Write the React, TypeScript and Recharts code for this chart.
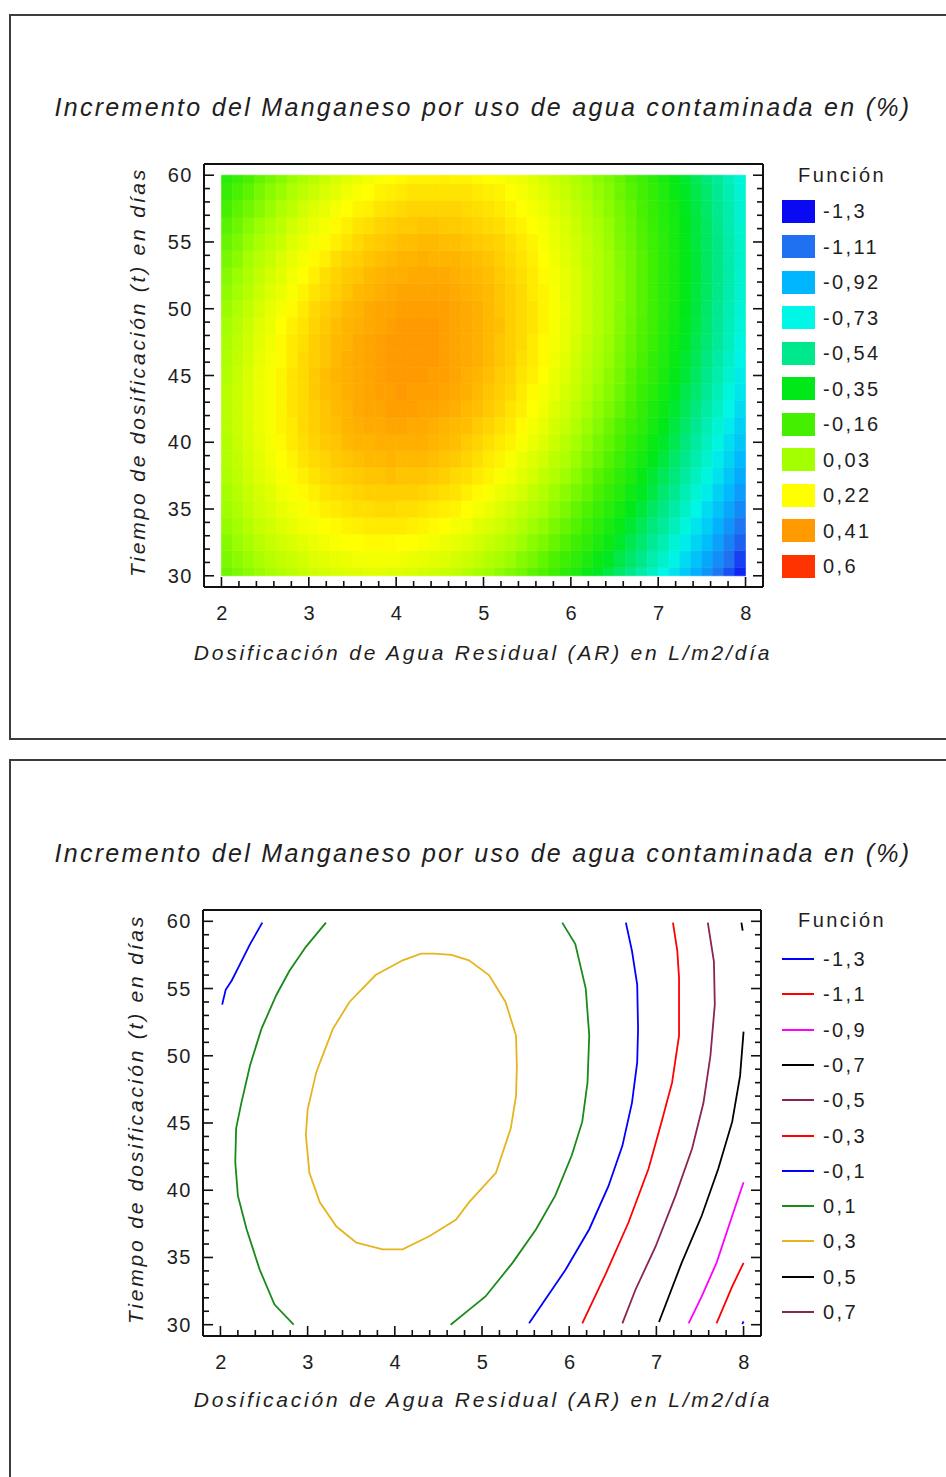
import React from 'react';
import { ComposedChart, Scatter, XAxis, YAxis, ReferenceArea } from 'recharts';

// ---------- axes ----------
const xTicks = [2, 2.2, 2.4, 2.6, 2.8, 3, 3.2, 3.4, 3.6, 3.8, 4, 4.2, 4.4, 4.6, 4.8, 5, 5.2, 5.4, 5.6, 5.8, 6, 6.2, 6.4, 6.6, 6.8, 7, 7.2, 7.4, 7.6, 7.8, 8];
const xTickLabels = [2, 3, 4, 5, 6, 7, 8];
const tTicks = [30, 31, 32, 33, 34, 35, 36, 37, 38, 39, 40, 41, 42, 43, 44, 45, 46, 47, 48, 49, 50, 51, 52, 53, 54, 55, 56, 57, 58, 59, 60];
const tTickLabels = [30, 35, 40, 45, 50, 55, 60];
const xDomain = [1.8, 8.2];
const tDomain = [29.16, 60.84];
const xRange = [2, 8];
const tRange = [30, 60];

const chartTitle = 'Incremento del Manganeso por uso de agua contaminada en (%)';
const xTitle = 'Dosificación de Agua Residual (AR) en L/m2/día';
const yTitle = 'Tiempo de dosificación (t) en días';
const legendTitle = 'Función';

// ---------- surface (heat map) values at cell centres ----------
const xCells = [2.0625, 2.1875, 2.3125, 2.4375, 2.5625, 2.6875, 2.8125, 2.9375, 3.0625, 3.1875, 3.3125, 3.4375, 3.5625, 3.6875, 3.8125, 3.9375,
  4.0625, 4.1875, 4.3125, 4.4375, 4.5625, 4.6875, 4.8125, 4.9375, 5.0625, 5.1875, 5.3125, 5.4375, 5.5625, 5.6875, 5.8125, 5.9375,
  6.0625, 6.1875, 6.3125, 6.4375, 6.5625, 6.6875, 6.8125, 6.9375, 7.0625, 7.1875, 7.3125, 7.4375, 7.5625, 7.6875, 7.8125, 7.9375];
const tCells = [30, 31.25, 32.5, 33.75, 35, 36.25, 37.5, 38.75, 40, 41.25, 42.5, 43.75, 45, 46.25, 47.5, 48.75, 50, 51.25, 52.5, 53.75, 55, 56.25, 57.5, 58.75, 60];
const z300 = [-0.08, -0.05, -0.02, 0.01, 0.04, 0.06, 0.08, 0.10, 0.12, 0.13, 0.14, 0.15, 0.15, 0.16, 0.16, 0.15, 0.15, 0.14, 0.13, 0.12, 0.10, 0.09, 0.07, 0.04, 0.02, -0.01, -0.04, -0.07, -0.11, -0.14, -0.18, -0.23, -0.27, -0.32, -0.37, -0.42, -0.48, -0.54, -0.60, -0.66, -0.73, -0.79, -0.86, -0.94, -1.01, -1.09, -1.17, -1.25];
const z312 = [-0.05, -0.02, 0.01, 0.04, 0.07, 0.09, 0.11, 0.13, 0.15, 0.16, 0.17, 0.18, 0.19, 0.19, 0.19, 0.19, 0.19, 0.18, 0.17, 0.16, 0.15, 0.13, 0.11, 0.09, 0.06, 0.04, 0.01, -0.03, -0.06, -0.10, -0.14, -0.18, -0.22, -0.27, -0.32, -0.37, -0.43, -0.48, -0.54, -0.61, -0.67, -0.74, -0.81, -0.88, -0.96, -1.03, -1.11, -1.20];
const z325 = [-0.03, 0.01, 0.04, 0.07, 0.10, 0.12, 0.14, 0.16, 0.18, 0.19, 0.21, 0.22, 0.22, 0.23, 0.23, 0.23, 0.22, 0.22, 0.21, 0.20, 0.18, 0.17, 0.15, 0.13, 0.10, 0.08, 0.05, 0.02, -0.02, -0.05, -0.09, -0.13, -0.18, -0.22, -0.27, -0.32, -0.38, -0.44, -0.49, -0.56, -0.62, -0.69, -0.76, -0.83, -0.90, -0.98, -1.06, -1.14];
const z338 = [0.00, 0.03, 0.07, 0.10, 0.12, 0.15, 0.17, 0.19, 0.21, 0.22, 0.23, 0.24, 0.25, 0.26, 0.26, 0.26, 0.26, 0.25, 0.24, 0.23, 0.22, 0.20, 0.19, 0.16, 0.14, 0.12, 0.09, 0.06, 0.02, -0.01, -0.05, -0.09, -0.13, -0.18, -0.23, -0.28, -0.33, -0.39, -0.45, -0.51, -0.57, -0.64, -0.71, -0.78, -0.85, -0.93, -1.01, -1.09];
const z350 = [0.02, 0.05, 0.09, 0.12, 0.14, 0.17, 0.19, 0.21, 0.23, 0.25, 0.26, 0.27, 0.28, 0.28, 0.29, 0.29, 0.28, 0.28, 0.27, 0.26, 0.25, 0.24, 0.22, 0.20, 0.18, 0.15, 0.12, 0.09, 0.06, 0.03, -0.01, -0.05, -0.10, -0.14, -0.19, -0.24, -0.29, -0.35, -0.40, -0.47, -0.53, -0.59, -0.66, -0.73, -0.81, -0.88, -0.96, -1.04];
const z362 = [0.03, 0.07, 0.10, 0.13, 0.16, 0.19, 0.21, 0.23, 0.25, 0.27, 0.28, 0.29, 0.30, 0.31, 0.31, 0.31, 0.31, 0.31, 0.30, 0.29, 0.28, 0.27, 0.25, 0.23, 0.21, 0.18, 0.16, 0.13, 0.09, 0.06, 0.02, -0.02, -0.06, -0.10, -0.15, -0.20, -0.25, -0.31, -0.36, -0.42, -0.49, -0.55, -0.62, -0.69, -0.76, -0.84, -0.91, -0.99];
const z375 = [0.05, 0.08, 0.12, 0.15, 0.18, 0.21, 0.23, 0.25, 0.27, 0.29, 0.30, 0.31, 0.32, 0.33, 0.33, 0.34, 0.33, 0.33, 0.33, 0.32, 0.31, 0.29, 0.28, 0.26, 0.24, 0.21, 0.19, 0.16, 0.13, 0.09, 0.06, 0.02, -0.02, -0.07, -0.12, -0.16, -0.22, -0.27, -0.33, -0.39, -0.45, -0.51, -0.58, -0.65, -0.72, -0.79, -0.87, -0.95];
const z388 = [0.06, 0.09, 0.13, 0.16, 0.19, 0.22, 0.24, 0.27, 0.29, 0.30, 0.32, 0.33, 0.34, 0.35, 0.35, 0.36, 0.35, 0.35, 0.35, 0.34, 0.33, 0.32, 0.30, 0.28, 0.26, 0.24, 0.21, 0.18, 0.15, 0.12, 0.08, 0.05, 0.01, -0.04, -0.08, -0.13, -0.18, -0.24, -0.29, -0.35, -0.41, -0.48, -0.54, -0.61, -0.68, -0.76, -0.83, -0.91];
const z400 = [0.06, 0.10, 0.14, 0.17, 0.20, 0.23, 0.26, 0.28, 0.30, 0.32, 0.33, 0.35, 0.36, 0.36, 0.37, 0.37, 0.37, 0.37, 0.37, 0.36, 0.35, 0.34, 0.32, 0.30, 0.28, 0.26, 0.24, 0.21, 0.18, 0.15, 0.11, 0.07, 0.03, -0.01, -0.06, -0.10, -0.15, -0.21, -0.26, -0.32, -0.38, -0.44, -0.51, -0.58, -0.65, -0.72, -0.80, -0.87];
const z412 = [0.07, 0.11, 0.14, 0.18, 0.21, 0.24, 0.26, 0.29, 0.31, 0.33, 0.34, 0.36, 0.37, 0.38, 0.38, 0.39, 0.39, 0.38, 0.38, 0.37, 0.36, 0.35, 0.34, 0.32, 0.30, 0.28, 0.26, 0.23, 0.20, 0.17, 0.13, 0.10, 0.06, 0.01, -0.03, -0.08, -0.13, -0.18, -0.23, -0.29, -0.35, -0.41, -0.48, -0.55, -0.62, -0.69, -0.76, -0.84];
const z425 = [0.07, 0.11, 0.15, 0.18, 0.21, 0.24, 0.27, 0.29, 0.31, 0.33, 0.35, 0.36, 0.38, 0.39, 0.39, 0.40, 0.40, 0.40, 0.39, 0.39, 0.38, 0.37, 0.35, 0.34, 0.32, 0.30, 0.27, 0.25, 0.22, 0.19, 0.15, 0.12, 0.08, 0.04, -0.01, -0.05, -0.10, -0.15, -0.21, -0.27, -0.32, -0.39, -0.45, -0.52, -0.59, -0.66, -0.73, -0.81];
const z438 = [0.07, 0.11, 0.14, 0.18, 0.21, 0.24, 0.27, 0.29, 0.32, 0.34, 0.35, 0.37, 0.38, 0.39, 0.40, 0.40, 0.41, 0.40, 0.40, 0.40, 0.39, 0.38, 0.37, 0.35, 0.33, 0.31, 0.29, 0.26, 0.23, 0.20, 0.17, 0.13, 0.10, 0.06, 0.01, -0.03, -0.08, -0.13, -0.19, -0.24, -0.30, -0.36, -0.43, -0.49, -0.56, -0.63, -0.71, -0.78];
const z450 = [0.06, 0.10, 0.14, 0.18, 0.21, 0.24, 0.27, 0.29, 0.32, 0.34, 0.36, 0.37, 0.38, 0.39, 0.40, 0.41, 0.41, 0.41, 0.41, 0.40, 0.40, 0.39, 0.37, 0.36, 0.34, 0.32, 0.30, 0.27, 0.25, 0.22, 0.18, 0.15, 0.11, 0.07, 0.03, -0.02, -0.06, -0.12, -0.17, -0.22, -0.28, -0.34, -0.40, -0.47, -0.54, -0.61, -0.68, -0.76];
const z462 = [0.05, 0.09, 0.13, 0.17, 0.20, 0.23, 0.26, 0.29, 0.31, 0.33, 0.35, 0.37, 0.38, 0.39, 0.40, 0.41, 0.41, 0.41, 0.41, 0.41, 0.40, 0.39, 0.38, 0.37, 0.35, 0.33, 0.31, 0.28, 0.26, 0.23, 0.19, 0.16, 0.12, 0.08, 0.04, 0.00, -0.05, -0.10, -0.15, -0.21, -0.26, -0.32, -0.39, -0.45, -0.52, -0.59, -0.66, -0.74];
const z475 = [0.04, 0.08, 0.12, 0.16, 0.19, 0.23, 0.26, 0.28, 0.31, 0.33, 0.35, 0.36, 0.38, 0.39, 0.40, 0.41, 0.41, 0.41, 0.41, 0.41, 0.40, 0.39, 0.38, 0.37, 0.35, 0.33, 0.31, 0.29, 0.26, 0.23, 0.20, 0.17, 0.13, 0.09, 0.05, 0.01, -0.04, -0.09, -0.14, -0.19, -0.25, -0.31, -0.37, -0.44, -0.50, -0.57, -0.64, -0.72];
const z488 = [0.03, 0.07, 0.11, 0.15, 0.18, 0.22, 0.25, 0.27, 0.30, 0.32, 0.34, 0.36, 0.37, 0.38, 0.39, 0.40, 0.41, 0.41, 0.41, 0.41, 0.40, 0.39, 0.38, 0.37, 0.35, 0.34, 0.31, 0.29, 0.27, 0.24, 0.21, 0.17, 0.14, 0.10, 0.06, 0.02, -0.03, -0.08, -0.13, -0.18, -0.24, -0.30, -0.36, -0.42, -0.49, -0.56, -0.63, -0.70];
const z500 = [0.01, 0.05, 0.09, 0.13, 0.17, 0.20, 0.23, 0.26, 0.29, 0.31, 0.33, 0.35, 0.36, 0.38, 0.39, 0.39, 0.40, 0.40, 0.40, 0.40, 0.40, 0.39, 0.38, 0.37, 0.35, 0.33, 0.31, 0.29, 0.27, 0.24, 0.21, 0.18, 0.14, 0.10, 0.06, 0.02, -0.03, -0.07, -0.12, -0.18, -0.23, -0.29, -0.35, -0.41, -0.48, -0.55, -0.62, -0.69];
const z512 = [-0.01, 0.03, 0.07, 0.11, 0.15, 0.18, 0.21, 0.24, 0.27, 0.29, 0.31, 0.33, 0.35, 0.36, 0.37, 0.38, 0.39, 0.39, 0.39, 0.39, 0.39, 0.38, 0.37, 0.36, 0.35, 0.33, 0.31, 0.29, 0.26, 0.24, 0.21, 0.17, 0.14, 0.10, 0.06, 0.02, -0.02, -0.07, -0.12, -0.17, -0.23, -0.28, -0.34, -0.41, -0.47, -0.54, -0.61, -0.68];
const z525 = [-0.03, 0.01, 0.05, 0.09, 0.13, 0.16, 0.19, 0.22, 0.25, 0.28, 0.30, 0.32, 0.33, 0.35, 0.36, 0.37, 0.37, 0.38, 0.38, 0.38, 0.38, 0.37, 0.36, 0.35, 0.34, 0.32, 0.30, 0.28, 0.26, 0.23, 0.20, 0.17, 0.14, 0.10, 0.06, 0.02, -0.02, -0.07, -0.12, -0.17, -0.23, -0.28, -0.34, -0.40, -0.47, -0.53, -0.60, -0.68];
const z538 = [-0.06, -0.02, 0.03, 0.07, 0.10, 0.14, 0.17, 0.20, 0.23, 0.25, 0.28, 0.30, 0.31, 0.33, 0.34, 0.35, 0.36, 0.36, 0.37, 0.36, 0.36, 0.36, 0.35, 0.34, 0.33, 0.31, 0.29, 0.27, 0.25, 0.22, 0.19, 0.16, 0.13, 0.09, 0.06, 0.02, -0.03, -0.07, -0.12, -0.17, -0.23, -0.28, -0.34, -0.40, -0.47, -0.53, -0.60, -0.67];
const z550 = [-0.09, -0.05, 0.00, 0.04, 0.08, 0.11, 0.15, 0.18, 0.20, 0.23, 0.25, 0.27, 0.29, 0.31, 0.32, 0.33, 0.34, 0.34, 0.35, 0.35, 0.34, 0.34, 0.33, 0.32, 0.31, 0.30, 0.28, 0.26, 0.24, 0.21, 0.18, 0.15, 0.12, 0.09, 0.05, 0.01, -0.04, -0.08, -0.13, -0.18, -0.23, -0.29, -0.34, -0.41, -0.47, -0.53, -0.60, -0.67];
const z562 = [-0.12, -0.08, -0.03, 0.01, 0.05, 0.08, 0.12, 0.15, 0.18, 0.20, 0.23, 0.25, 0.27, 0.28, 0.30, 0.31, 0.32, 0.32, 0.33, 0.33, 0.32, 0.32, 0.31, 0.30, 0.29, 0.28, 0.26, 0.24, 0.22, 0.20, 0.17, 0.14, 0.11, 0.07, 0.04, 0.00, -0.05, -0.09, -0.14, -0.19, -0.24, -0.29, -0.35, -0.41, -0.47, -0.54, -0.61, -0.68];
const z575 = [-0.16, -0.11, -0.07, -0.03, 0.01, 0.05, 0.08, 0.12, 0.15, 0.17, 0.20, 0.22, 0.24, 0.25, 0.27, 0.28, 0.29, 0.30, 0.30, 0.30, 0.30, 0.30, 0.29, 0.28, 0.27, 0.26, 0.24, 0.22, 0.20, 0.18, 0.15, 0.12, 0.09, 0.06, 0.02, -0.02, -0.06, -0.10, -0.15, -0.20, -0.25, -0.30, -0.36, -0.42, -0.48, -0.55, -0.61, -0.68];
const z588 = [-0.20, -0.15, -0.11, -0.06, -0.02, 0.01, 0.05, 0.08, 0.11, 0.14, 0.16, 0.19, 0.21, 0.22, 0.24, 0.25, 0.26, 0.27, 0.27, 0.27, 0.27, 0.27, 0.27, 0.26, 0.25, 0.24, 0.22, 0.20, 0.18, 0.16, 0.13, 0.10, 0.07, 0.04, 0.00, -0.03, -0.08, -0.12, -0.16, -0.21, -0.26, -0.32, -0.37, -0.43, -0.49, -0.56, -0.62, -0.69];
const z600 = [-0.24, -0.19, -0.15, -0.10, -0.06, -0.03, 0.01, 0.04, 0.07, 0.10, 0.13, 0.15, 0.17, 0.19, 0.21, 0.22, 0.23, 0.24, 0.24, 0.24, 0.25, 0.24, 0.24, 0.23, 0.22, 0.21, 0.19, 0.18, 0.16, 0.13, 0.11, 0.08, 0.05, 0.02, -0.02, -0.05, -0.09, -0.14, -0.18, -0.23, -0.28, -0.33, -0.39, -0.45, -0.51, -0.57, -0.64, -0.70];
const heatRows = [z300, z312, z325, z338, z350, z362, z375, z388, z400, z412, z425, z438, z450, z462, z475, z488, z500, z512, z525, z538, z550, z562, z575, z588, z600];

// ---------- colour scale legend ----------
const fillLevels = [-1.3, -1.11, -0.92, -0.73, -0.54, -0.35, -0.16, 0.03, 0.22, 0.41, 0.6];
const fillLabels = ['-1,3', '-1,11', '-0,92', '-0,73', '-0,54', '-0,35', '-0,16', '0,03', '0,22', '0,41', '0,6'];
const fillColors = ['#0a0af2', '#2070f2', '#00b6ff', '#00f6e6', '#00e88c', '#00e818', '#44f000', '#a4ff00', '#ffff00', '#ff9a00', '#ff3300'];

// ---------- contour legend ----------
const contourLabels = ['-1,3', '-1,1', '-0,9', '-0,7', '-0,5', '-0,3', '-0,1', '0,1', '0,3', '0,5', '0,7'];
const contourColors = ['#0000ff', '#ff0000', '#ff00ff', '#000000', '#8a2454', '#ff0000', '#0000ff', '#1a8a1a', '#e6b41e', '#000000', '#8a2454'];

// ---------- contour lines (x = AR dose, t = days) ----------
const cNeg13 = [{ x: 7.985, t: 30.05 }, { x: 8.0, t: 30.25 }];
const cNeg11 = [{ x: 8.0, t: 34.6 }, { x: 7.87, t: 32.85 }, { x: 7.69, t: 30.1 }];
const cNeg09 = [{ x: 8.0, t: 40.6 }, { x: 7.87, t: 38.1 }, { x: 7.69, t: 34.6 }, { x: 7.52, t: 32.1 }, { x: 7.37, t: 30.1 }];
const cNeg07 = [{ x: 8.0, t: 51.8 }, { x: 7.96, t: 48.5 }, { x: 7.87, t: 45.1 }, { x: 7.71, t: 41.6 }, { x: 7.52, t: 38.1 }, { x: 7.29, t: 34.6 }, { x: 7.03, t: 30.2 }];
const cNeg07Top = [{ x: 7.975, t: 59.9 }, { x: 7.99, t: 59.3 }];
const cNeg05 = [{ x: 7.59, t: 59.9 }, { x: 7.66, t: 57.0 }, { x: 7.67, t: 53.8 }, { x: 7.62, t: 50.0 }, { x: 7.54, t: 46.5 }, { x: 7.41, t: 43.1 }, { x: 7.22, t: 39.6 }, { x: 6.99, t: 35.8 }, { x: 6.76, t: 32.6 }, { x: 6.61, t: 30.1 }];
const cNeg03 = [{ x: 7.19, t: 59.9 }, { x: 7.24, t: 57.8 }, { x: 7.26, t: 55.8 }, { x: 7.26, t: 51.5 }, { x: 7.18, t: 48.0 }, { x: 7.06, t: 45.1 }, { x: 6.91, t: 41.6 }, { x: 6.68, t: 37.6 }, { x: 6.42, t: 33.8 }, { x: 6.15, t: 30.1 }];
const cNeg01R = [{ x: 6.65, t: 59.9 }, { x: 6.72, t: 57.8 }, { x: 6.78, t: 55.3 }, { x: 6.79, t: 52.0 }, { x: 6.78, t: 49.5 }, { x: 6.72, t: 46.5 }, { x: 6.61, t: 43.3 }, { x: 6.45, t: 40.3 }, { x: 6.23, t: 37.1 }, { x: 5.96, t: 34.1 }, { x: 5.54, t: 30.1 }];
const cNeg01L = [{ x: 2.48, t: 59.9 }, { x: 2.34, t: 58.3 }, { x: 2.2, t: 56.5 }, { x: 2.13, t: 55.6 }, { x: 2.06, t: 54.9 }, { x: 2.02, t: 53.8 }];
const cPos01L = [{ x: 3.21, t: 59.9 }, { x: 2.98, t: 58.1 }, { x: 2.79, t: 56.3 }, { x: 2.64, t: 54.5 }, { x: 2.47, t: 52.0 }, { x: 2.34, t: 49.3 }, { x: 2.24, t: 46.5 }, { x: 2.18, t: 44.6 }, { x: 2.17, t: 42.1 }, { x: 2.2, t: 39.6 }, { x: 2.3, t: 37.1 }, { x: 2.45, t: 34.1 }, { x: 2.62, t: 31.5 }, { x: 2.84, t: 30.0 }];
const cPos01R = [{ x: 5.92, t: 59.9 }, { x: 6.07, t: 58.3 }, { x: 6.19, t: 55.0 }, { x: 6.23, t: 51.5 }, { x: 6.21, t: 48.0 }, { x: 6.15, t: 45.1 }, { x: 6.03, t: 42.6 }, { x: 5.84, t: 39.6 }, { x: 5.62, t: 37.1 }, { x: 5.35, t: 34.6 }, { x: 5.04, t: 32.1 }, { x: 4.85, t: 31.1 }, { x: 4.64, t: 30.0 }];
const cPos03 = [{ x: 4.45, t: 57.6 }, { x: 4.65, t: 57.5 }, { x: 4.85, t: 57.1 }, { x: 5.08, t: 56.0 }, { x: 5.27, t: 54.0 }, { x: 5.39, t: 51.5 }, { x: 5.4, t: 49.2 }, { x: 5.39, t: 47.0 }, { x: 5.33, t: 44.6 }, { x: 5.16, t: 41.3 }, { x: 4.85, t: 39.1 }, { x: 4.7, t: 37.8 }, { x: 4.4, t: 36.6 }, { x: 4.09, t: 35.6 }, { x: 3.86, t: 35.6 }, { x: 3.56, t: 36.1 }, { x: 3.33, t: 37.3 }, { x: 3.14, t: 39.1 }, { x: 3.02, t: 41.3 }, { x: 2.98, t: 44.1 }, { x: 3.0, t: 46.0 }, { x: 3.1, t: 48.8 }, { x: 3.29, t: 52.0 }, { x: 3.48, t: 54.0 }, { x: 3.78, t: 56.0 }, { x: 4.09, t: 57.1 }, { x: 4.3, t: 57.6 }, { x: 4.45, t: 57.6 }];

const contourSeries = [
  { data: cNeg13, color: contourColors[0] },
  { data: cNeg11, color: contourColors[1] },
  { data: cNeg09, color: contourColors[2] },
  { data: cNeg07, color: contourColors[3] },
  { data: cNeg07Top, color: contourColors[3] },
  { data: cNeg05, color: contourColors[4] },
  { data: cNeg03, color: contourColors[5] },
  { data: cNeg01R, color: contourColors[6] },
  { data: cNeg01L, color: contourColors[6] },
  { data: cPos01L, color: contourColors[7] },
  { data: cPos01R, color: contourColors[7] },
  { data: cPos03, color: contourColors[8] },
];

// ---------- helpers ----------
const FONT = "'Liberation Sans', Arial, sans-serif";
const TEXT = '#1e1e1e';
const MAJOR = 10;
const MINOR = 6;
const frameLine = { stroke: '#111', strokeWidth: 2 };
const HALF_X = 0.0625;
const HALF_T = 0.625;

const hexToRgb = (h: string) => {
  const n = parseInt(h.slice(1), 16);
  return [(n >> 16) & 255, (n >> 8) & 255, n & 255];
};
const valueColor = (v: number) => {
  if (v <= fillLevels[0]) return fillColors[0];
  const last = fillLevels.length - 1;
  if (v >= fillLevels[last]) return fillColors[last];
  for (let i = 0; i < last; i++) {
    if (v <= fillLevels[i + 1]) {
      const f = (v - fillLevels[i]) / (fillLevels[i + 1] - fillLevels[i]);
      const a = hexToRgb(fillColors[i]);
      const b = hexToRgb(fillColors[i + 1]);
      const c = a.map((av, k) => Math.round(av + (b[k] - av) * f));
      return `rgb(${c[0]},${c[1]},${c[2]})`;
    }
  }
  return fillColors[last];
};

const heatCells = tCells.flatMap((t, j) => xCells.map((x, i) => ({ x, t, v: heatRows[j][i] })));

const isMajorX = (v: number) => xTickLabels.some((l) => Math.abs(l - v) < 1e-6);
const isMajorT = (v: number) => tTickLabels.some((l) => Math.abs(l - v) < 1e-6);

const labelStyle = { fontFamily: FONT, fontSize: 20, fill: TEXT, letterSpacing: 1.5 };

const BottomTick = (p: any) => {
  const v = p.payload.value;
  const major = isMajorX(v);
  return (
    <g>
      <line x1={p.x} x2={p.x} y1={p.y} y2={p.y - (major ? MAJOR : MINOR)} stroke="#111" strokeWidth={1.6} />
      {major && (
        <text x={p.x + 1} y={p.y + 26} textAnchor="middle" dominantBaseline="central" style={labelStyle}>
          {String(Math.round(v))}
        </text>
      )}
    </g>
  );
};
const TopTick = (p: any) => {
  const v = p.payload.value;
  const major = isMajorX(v);
  return <line x1={p.x} x2={p.x} y1={p.y} y2={p.y + (major ? MAJOR : MINOR)} stroke="#111" strokeWidth={1.6} />;
};
const LeftTick = (p: any) => {
  const v = p.payload.value;
  const major = isMajorT(v);
  return (
    <g>
      <line x1={p.x} x2={p.x + (major ? MAJOR : MINOR)} y1={p.y} y2={p.y} stroke="#111" strokeWidth={1.6} />
      {major && (
        <text x={p.x - 11} y={p.y} textAnchor="end" dominantBaseline="central" style={labelStyle}>
          {String(Math.round(v))}
        </text>
      )}
    </g>
  );
};
const RightTick = (p: any) => {
  const v = p.payload.value;
  const major = isMajorT(v);
  return <line x1={p.x} x2={p.x - (major ? MAJOR : MINOR)} y1={p.y} y2={p.y} stroke="#111" strokeWidth={1.6} />;
};

const EmptyShape = () => <g />;

const axes = [
  <XAxis key="xb" xAxisId={0} dataKey="x" type="number" domain={xDomain} allowDataOverflow ticks={xTicks} interval={0}
    tickSize={0} tickMargin={0} tickLine={false} height={1} axisLine={frameLine} tick={(p: any) => <BottomTick {...p} />} />,
  <XAxis key="xt" xAxisId="top" orientation="top" type="number" domain={xDomain} allowDataOverflow ticks={xTicks} interval={0}
    tickSize={0} tickMargin={0} tickLine={false} height={1} axisLine={frameLine} tick={(p: any) => <TopTick {...p} />} />,
  <YAxis key="yl" yAxisId={0} dataKey="t" type="number" domain={tDomain} allowDataOverflow ticks={tTicks} interval={0}
    tickSize={0} tickMargin={0} tickLine={false} width={1} axisLine={frameLine} tick={(p: any) => <LeftTick {...p} />} />,
  <YAxis key="yr" yAxisId="right" orientation="right" type="number" domain={tDomain} allowDataOverflow ticks={tTicks} interval={0}
    tickSize={0} tickMargin={0} tickLine={false} width={1} axisLine={frameLine} tick={(p: any) => <RightTick {...p} />} />,
];

const abs = (style: React.CSSProperties): React.CSSProperties => ({ position: 'absolute', ...style });

const titleStyle: React.CSSProperties = {
  fontFamily: FONT, fontStyle: 'italic', fontSize: 25, letterSpacing: 2.3, color: TEXT, whiteSpace: 'nowrap',
  transform: 'translate(-50%, -50%)', lineHeight: '30px',
};
const axisTitleStyle: React.CSSProperties = {
  fontFamily: FONT, fontStyle: 'italic', fontSize: 21, letterSpacing: 2.8, color: TEXT, whiteSpace: 'nowrap',
  lineHeight: '26px',
};
const legendText: React.CSSProperties = {
  fontFamily: FONT, fontSize: 20, letterSpacing: 2.4, color: TEXT, whiteSpace: 'nowrap', lineHeight: '24px',
};

function PanelTexts({ top, titleY, xTitleY, yTitleX, yTitleY }: any) {
  return (
    <>
      <div style={abs({ left: 483, top: top + titleY, ...titleStyle })}>{chartTitle}</div>
      <div style={abs({ left: 483, top: top + xTitleY, transform: 'translate(-50%, -50%)', ...axisTitleStyle })}>{xTitle}</div>
      <div style={abs({ left: yTitleX, top: top + yTitleY, transform: 'translate(-50%, -50%) rotate(-90deg)', ...axisTitleStyle })}>{yTitle}</div>
    </>
  );
}

export default function App() {
  return (
    <div style={{ position: 'absolute', left: 0, top: 0, width: 946, height: 1477, background: '#fff', overflow: 'hidden' }}>
      {/* panel frames */}
      <div style={abs({ left: 9, top: 14, width: 960, height: 722, border: '2px solid #3c3c3c' })} />
      <div style={abs({ left: 9, top: 759, width: 960, height: 760, border: '2px solid #3c3c3c' })} />

      {/* ---------- top: coloured surface ---------- */}
      <div style={abs({ left: 0, top: 0 })}>
        <ComposedChart width={946} height={738} margin={{ top: 163, right: 182, bottom: 150, left: 203 }}>
          {heatCells.map((c, k) => {
            const col = valueColor(c.v);
            return (
              <ReferenceArea key={k} xAxisId={0} yAxisId={0}
                x1={Math.max(xRange[0], c.x - HALF_X)} x2={Math.min(xRange[1], c.x + HALF_X)}
                y1={Math.max(tRange[0], c.t - HALF_T)} y2={Math.min(tRange[1], c.t + HALF_T)}
                fill={col} fillOpacity={1} stroke={col} strokeWidth={0.6} ifOverflow="visible" />
            );
          })}
          {axes}
        </ComposedChart>
      </div>
      <PanelTexts top={0} titleY={107} xTitleY={653} yTitleX={138} yTitleY={372} />
      <div style={abs({ left: 842, top: 175, transform: 'translate(-50%, -50%)', ...legendText })}>{legendTitle}</div>
      {fillLabels.map((lab, i) => {
        const cy = 211 + i * 35.5;
        return (
          <React.Fragment key={lab}>
            <div style={abs({ left: 782, top: cy - 11.5, width: 33, height: 23, background: fillColors[i] })} />
            <div style={abs({ left: 823, top: cy - 12, ...legendText })}>{lab}</div>
          </React.Fragment>
        );
      })}

      {/* ---------- bottom: contour lines ---------- */}
      <div style={abs({ left: 0, top: 740 })}>
        <ComposedChart width={946} height={737} margin={{ top: 169, right: 184, bottom: 140, left: 202 }}>
          {contourSeries.map((s, k) => (
            <Scatter key={k} xAxisId={0} yAxisId={0} data={s.data} fill={s.color} line={{ stroke: s.color, strokeWidth: 1.8 }}
              lineType="joint" shape={EmptyShape} isAnimationActive={false} />
          ))}
          {axes}
        </ComposedChart>
      </div>
      <PanelTexts top={746} titleY={107} xTitleY={654} yTitleX={136} yTitleY={373} />
      <div style={abs({ left: 842, top: 920, transform: 'translate(-50%, -50%)', ...legendText })}>{legendTitle}</div>
      {contourLabels.map((lab, i) => {
        const cy = 959 + i * 35.3;
        return (
          <React.Fragment key={lab + i}>
            <div style={abs({ left: 782, top: cy - 1, width: 32, height: 2, background: contourColors[i] })} />
            <div style={abs({ left: 823, top: cy - 12, ...legendText })}>{lab}</div>
          </React.Fragment>
        );
      })}
    </div>
  );
}
